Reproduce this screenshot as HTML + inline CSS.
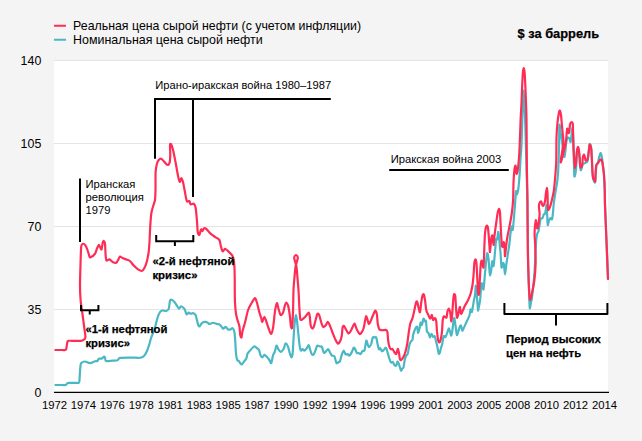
<!DOCTYPE html>
<html lang="ru"><head><meta charset="utf-8"><title>Цена сырой нефти</title>
<style>
html,body{margin:0;padding:0;}
body{width:642px;height:441px;background:#f4f4f4;overflow:hidden;position:relative;}
#plot{position:absolute;left:54px;top:60px;width:554px;height:333px;background:#fff;}
svg{position:absolute;left:0;top:0;}
svg text{font-family:"Liberation Sans",Arial,Helvetica,sans-serif;fill:#000;}
</style></head><body>
<div id="plot"></div>
<svg width="642" height="441" viewBox="0 0 642 441">
<g stroke="#e4e4e4" stroke-width="1" shape-rendering="crispEdges">
<line x1="54" x2="608" y1="60.5" y2="60.5"/>
<line x1="54" x2="608" y1="143.5" y2="143.5"/>
<line x1="54" x2="608" y1="226.5" y2="226.5"/>
<line x1="54" x2="608" y1="309.5" y2="309.5"/>
</g>
<path d="M55.40,385.00C56.28,385.00 60.65,385.00 62.00,385.00C63.35,385.00 64.86,385.13 65.50,385.00C66.14,384.87 66.49,384.27 66.80,384.00C67.11,383.73 67.37,383.15 67.80,383.00C68.23,382.85 69.04,382.91 70.00,382.90C70.96,382.89 73.85,382.90 75.00,382.90C76.15,382.90 78.01,383.15 78.60,382.90C79.19,382.65 79.21,382.55 79.40,381.00C79.59,379.45 79.84,373.38 80.00,371.25C80.16,369.12 80.41,366.13 80.60,365.00C80.79,363.87 80.81,363.27 81.40,362.80C81.99,362.33 83.85,361.46 85.00,361.50C86.15,361.54 88.67,363.13 90.00,363.10C91.33,363.07 94.00,361.53 95.00,361.25C96.00,360.97 97.00,361.33 97.50,361.00C98.00,360.67 98.16,359.08 98.75,358.75C99.34,358.42 101.23,358.77 101.90,358.50C102.57,358.23 103.34,356.83 103.75,356.70C104.16,356.57 104.70,356.93 105.00,357.50C105.30,358.07 105.00,360.59 106.00,361.00C107.00,361.41 110.97,360.70 112.50,360.60C114.03,360.50 116.50,360.61 117.50,360.25C118.50,359.89 118.33,358.25 120.00,357.90C121.67,357.55 127.33,357.62 130.00,357.60C132.67,357.58 138.17,357.93 140.00,357.75C141.83,357.57 142.83,357.12 143.75,356.25C144.67,355.38 146.15,352.88 146.90,351.25C147.65,349.62 148.82,345.83 149.40,344.00C149.98,342.17 150.58,339.37 151.25,337.50C151.92,335.63 153.73,332.00 154.40,330.00C155.07,328.00 155.67,324.58 156.25,322.50C156.83,320.42 158.00,315.99 158.75,314.40C159.50,312.81 160.90,311.05 161.90,310.60C162.90,310.15 165.34,311.25 166.25,311.00C167.16,310.75 168.25,310.14 168.75,308.75C169.25,307.36 169.63,301.80 170.00,300.60C170.37,299.40 170.91,299.58 171.50,299.75C172.09,299.92 173.68,301.12 174.40,301.90C175.12,302.68 176.29,304.69 176.90,305.60C177.51,306.51 178.45,308.66 179.00,308.75C179.55,308.84 180.45,306.42 181.00,306.25C181.55,306.08 182.57,307.00 183.10,307.50C183.63,308.00 184.55,309.08 185.00,310.00C185.45,310.92 186.00,314.07 186.50,314.40C187.00,314.73 188.20,312.59 188.75,312.50C189.30,312.41 190.02,313.67 190.60,313.75C191.18,313.83 192.43,312.93 193.10,313.10C193.77,313.27 195.09,314.08 195.60,315.00C196.11,315.92 196.51,318.59 196.90,320.00C197.29,321.41 198.12,324.77 198.50,325.60C198.88,326.43 199.30,326.58 199.75,326.25C200.20,325.92 201.20,323.68 201.90,323.10C202.60,322.52 204.25,321.98 205.00,321.90C205.75,321.82 206.91,322.22 207.50,322.50C208.09,322.78 208.65,323.97 209.40,324.00C210.15,324.03 212.10,322.75 213.10,322.75C214.10,322.75 216.06,323.78 216.90,324.00C217.74,324.22 218.82,324.10 219.40,324.40C219.98,324.70 220.76,325.67 221.25,326.25C221.74,326.83 222.52,328.66 223.10,328.75C223.68,328.84 224.93,326.81 225.60,326.90C226.27,326.99 227.43,329.07 228.10,329.40C228.77,329.73 230.01,329.57 230.60,329.40C231.19,329.23 231.99,327.77 232.50,328.10C233.01,328.43 234.03,330.15 234.40,331.90C234.77,333.65 235.04,338.34 235.25,341.25C235.46,344.16 235.73,351.25 236.00,353.75C236.27,356.25 236.85,359.00 237.25,360.00C237.65,361.00 238.55,360.75 239.00,361.25C239.45,361.75 240.21,363.33 240.60,363.75C240.99,364.17 241.48,364.65 241.90,364.40C242.32,364.15 243.17,362.65 243.75,361.90C244.33,361.15 245.75,359.84 246.25,358.75C246.75,357.66 247.00,354.84 247.50,353.75C248.00,352.66 249.25,351.47 250.00,350.60C250.75,349.73 252.43,347.80 253.10,347.25C253.77,346.70 254.49,346.39 255.00,346.50C255.51,346.61 256.37,347.63 256.90,348.10C257.43,348.57 258.51,349.00 259.00,350.00C259.49,351.00 260.13,354.63 260.60,355.60C261.07,356.57 261.99,357.36 262.50,357.25C263.01,357.14 263.81,354.80 264.40,354.75C264.99,354.70 266.23,356.20 266.90,356.90C267.57,357.60 268.82,359.17 269.40,360.00C269.98,360.83 270.76,363.77 271.25,363.10C271.74,362.43 272.63,356.49 273.10,355.00C273.57,353.51 274.30,353.15 274.75,351.90C275.20,350.65 276.05,346.02 276.50,345.60C276.95,345.18 277.55,347.91 278.10,348.75C278.65,349.59 279.85,351.90 280.60,351.90C281.35,351.90 283.16,349.75 283.75,348.75C284.34,347.75 284.67,345.10 285.00,344.40C285.33,343.70 285.84,343.17 286.25,343.50C286.66,343.83 287.63,345.62 288.10,346.90C288.57,348.18 289.30,351.69 289.75,353.10C290.20,354.51 291.10,357.58 291.50,357.50C291.90,357.42 292.45,355.50 292.75,352.50C293.05,349.50 293.45,339.33 293.75,335.00C294.05,330.67 294.70,322.67 295.00,320.00C295.30,317.33 295.75,315.00 296.00,315.00C296.25,315.00 296.62,317.83 296.90,320.00C297.18,322.17 297.72,327.66 298.10,331.25C298.48,334.84 299.36,344.32 299.75,346.90C300.14,349.48 300.63,350.32 301.00,350.60C301.37,350.88 302.05,349.00 302.50,349.00C302.95,349.00 303.81,350.72 304.40,350.60C304.99,350.48 306.32,348.81 306.90,348.10C307.48,347.39 308.30,345.00 308.75,345.25C309.20,345.50 309.83,348.78 310.25,350.00C310.67,351.22 311.43,353.81 311.90,354.40C312.37,354.99 313.26,354.99 313.75,354.40C314.24,353.81 315.13,351.17 315.60,350.00C316.07,348.83 316.66,346.07 317.25,345.60C317.84,345.13 319.38,346.33 320.00,346.50C320.62,346.67 321.40,346.10 321.90,346.90C322.40,347.70 323.26,351.83 323.75,352.50C324.24,353.17 325.02,352.37 325.60,351.90C326.18,351.43 327.51,348.92 328.10,349.00C328.69,349.08 329.49,351.62 330.00,352.50C330.51,353.38 331.31,355.10 331.90,355.60C332.49,356.10 333.79,355.25 334.40,356.25C335.01,357.25 335.92,362.35 336.50,363.10C337.08,363.85 338.28,362.15 338.75,361.90C339.22,361.65 339.58,362.25 340.00,361.25C340.42,360.25 341.40,355.82 341.90,354.40C342.40,352.98 343.26,350.60 343.75,350.60C344.24,350.60 345.10,353.95 345.60,354.40C346.10,354.85 346.99,353.84 347.50,354.00C348.01,354.16 348.81,355.88 349.40,355.60C349.99,355.32 351.32,352.95 351.90,351.90C352.48,350.85 353.30,348.08 353.75,347.75C354.20,347.42 354.83,348.69 355.25,349.40C355.67,350.11 356.43,352.61 356.90,353.10C357.37,353.59 358.26,352.98 358.75,353.10C359.24,353.22 360.10,354.28 360.60,354.00C361.10,353.72 361.99,351.45 362.50,351.00C363.01,350.55 363.99,351.48 364.40,350.60C364.81,349.72 365.32,345.73 365.60,344.40C365.88,343.07 366.17,340.44 366.50,340.60C366.83,340.76 367.71,344.76 368.10,345.60C368.49,346.44 368.98,347.15 369.40,346.90C369.82,346.65 370.80,345.00 371.25,343.75C371.70,342.50 372.33,338.33 372.75,337.50C373.17,336.67 373.93,337.50 374.40,337.50C374.87,337.50 375.84,336.67 376.25,337.50C376.66,338.33 377.13,342.16 377.50,343.75C377.87,345.34 378.63,348.82 379.00,349.40C379.37,349.98 379.86,347.85 380.25,348.10C380.64,348.35 381.43,351.00 381.90,351.25C382.37,351.50 383.20,350.47 383.75,350.00C384.30,349.53 385.47,347.34 386.00,347.75C386.53,348.16 387.30,351.63 387.75,353.10C388.20,354.57 388.97,357.50 389.40,358.75C389.83,360.00 390.55,362.08 391.00,362.50C391.45,362.92 392.30,361.57 392.75,361.90C393.20,362.23 393.93,364.51 394.40,365.00C394.87,365.49 395.84,366.07 396.25,365.60C396.66,365.13 397.13,361.66 397.50,361.50C397.87,361.34 398.53,363.19 399.00,364.40C399.47,365.61 400.57,370.05 401.00,370.60C401.43,371.15 401.92,368.91 402.25,368.50C402.58,368.09 403.17,368.63 403.50,367.50C403.83,366.37 404.38,361.59 404.75,360.00C405.12,358.41 405.85,356.43 406.25,355.60C406.65,354.77 407.33,355.16 407.75,353.75C408.17,352.34 408.97,346.67 409.40,345.00C409.83,343.33 410.59,341.95 411.00,341.25C411.41,340.55 412.22,340.58 412.50,339.75C412.78,338.92 412.69,336.55 413.10,335.00C413.51,333.45 415.05,329.18 415.60,328.10C416.15,327.02 416.92,326.23 417.25,326.90C417.58,327.57 417.77,333.02 418.10,333.10C418.43,333.18 419.42,328.91 419.75,327.50C420.08,326.09 420.31,322.83 420.60,322.50C420.89,322.17 421.51,325.50 421.90,325.00C422.29,324.50 423.12,319.25 423.50,318.75C423.88,318.25 424.42,320.92 424.75,321.25C425.08,321.58 425.71,319.92 426.00,321.25C426.29,322.58 426.57,329.67 426.90,331.25C427.23,332.83 428.09,332.27 428.50,333.10C428.91,333.93 429.60,337.41 430.00,337.50C430.40,337.59 431.09,333.83 431.50,333.75C431.91,333.67 432.67,336.57 433.10,336.90C433.53,337.23 434.36,335.67 434.75,336.25C435.14,336.83 435.63,339.75 436.00,341.25C436.37,342.75 437.13,345.83 437.50,347.50C437.87,349.17 438.42,353.15 438.75,353.75C439.08,354.35 439.70,352.77 440.00,352.00C440.30,351.23 440.70,349.10 441.00,348.00C441.30,346.90 441.88,345.32 442.25,343.75C442.62,342.18 443.30,337.16 443.75,336.25C444.20,335.34 445.07,337.57 445.60,336.90C446.13,336.23 447.30,332.37 447.75,331.25C448.20,330.13 448.67,328.33 449.00,328.50C449.33,328.67 449.95,331.55 450.25,332.50C450.55,333.45 450.98,335.77 451.25,335.60C451.52,335.43 451.95,333.16 452.25,331.25C452.55,329.34 453.21,323.00 453.50,321.25C453.79,319.50 454.12,317.43 454.40,318.10C454.68,318.77 455.27,324.00 455.60,326.25C455.93,328.50 456.57,334.25 456.90,335.00C457.23,335.75 457.72,332.98 458.10,331.90C458.48,330.82 459.36,327.74 459.75,326.90C460.14,326.06 460.67,325.11 461.00,325.60C461.33,326.09 461.88,330.27 462.25,330.60C462.62,330.93 463.22,329.18 463.75,328.10C464.28,327.02 465.50,324.17 466.25,322.50C467.00,320.83 468.82,317.35 469.40,315.60C469.98,313.85 470.27,309.89 470.60,309.40C470.93,308.91 471.48,312.99 471.90,311.90C472.32,310.81 473.34,303.50 473.75,301.25C474.16,299.00 474.71,297.09 475.00,295.00C475.29,292.91 475.65,285.43 475.90,285.60C476.15,285.77 476.67,293.66 476.90,296.25C477.13,298.84 477.44,303.09 477.60,305.00C477.76,306.91 477.94,310.33 478.10,310.60C478.26,310.87 478.58,308.08 478.80,307.00C479.02,305.92 479.52,303.97 479.75,302.50C479.98,301.03 480.30,298.50 480.50,296.00C480.70,293.50 480.98,285.22 481.25,283.75C481.52,282.28 482.20,284.25 482.50,285.00C482.80,285.75 483.20,290.57 483.50,289.40C483.80,288.23 484.42,279.84 484.75,276.25C485.08,272.66 485.67,265.59 486.00,262.50C486.33,259.41 486.92,253.60 487.25,253.10C487.58,252.60 488.21,256.50 488.50,258.75C488.79,261.00 489.20,267.75 489.40,270.00C489.60,272.25 489.75,275.60 490.00,275.60C490.25,275.60 490.95,271.91 491.25,270.00C491.55,268.09 491.95,261.75 492.25,261.25C492.55,260.75 493.21,266.58 493.50,266.25C493.79,265.92 494.17,261.08 494.40,258.75C494.63,256.42 495.00,251.42 495.25,248.75C495.50,246.08 495.98,240.00 496.25,238.75C496.52,237.50 497.00,240.31 497.25,239.40C497.50,238.49 497.87,232.32 498.10,231.90C498.33,231.48 498.75,234.17 499.00,236.25C499.25,238.33 499.79,245.17 500.00,247.50C500.21,249.83 500.40,251.08 500.60,253.75C500.80,256.42 501.17,266.25 501.50,267.50C501.83,268.75 502.77,263.43 503.10,263.10C503.43,262.77 503.75,263.49 504.00,265.00C504.25,266.51 504.70,274.40 505.00,274.40C505.30,274.40 505.84,267.92 506.25,265.00C506.66,262.08 507.68,255.33 508.10,252.50C508.52,249.67 509.07,246.42 509.40,243.75C509.73,241.08 510.27,234.83 510.60,232.50C510.93,230.17 511.61,226.58 511.90,226.25C512.19,225.92 512.50,230.83 512.75,230.00C513.00,229.17 513.45,223.33 513.75,220.00C514.05,216.67 514.70,208.83 515.00,205.00C515.30,201.17 515.75,192.66 516.00,191.25C516.25,189.84 516.57,194.90 516.90,194.40C517.23,193.90 518.12,190.42 518.50,187.50C518.88,184.58 519.47,176.50 519.75,172.50C520.03,168.50 520.37,161.17 520.60,157.50C520.83,153.83 521.25,150.67 521.50,145.00C521.75,139.33 522.20,122.33 522.50,115.00C522.80,107.67 523.42,90.00 523.75,90.00C524.08,90.00 524.70,107.00 525.00,115.00C525.30,123.00 525.69,138.67 526.00,150.00C526.31,161.33 527.02,185.33 527.30,200.00C527.58,214.67 527.87,248.00 528.10,260.00C528.33,272.00 528.78,283.60 529.00,290.00C529.22,296.40 529.48,306.40 529.75,308.00C530.02,309.60 530.70,303.40 531.00,302.00C531.30,300.60 531.53,301.43 532.00,297.50C532.47,293.57 534.02,278.83 534.50,272.50C534.98,266.17 535.37,254.33 535.60,250.00C535.83,245.67 536.03,242.17 536.25,240.00C536.47,237.83 536.95,234.92 537.25,233.75C537.55,232.58 538.21,232.25 538.50,231.25C538.79,230.25 539.12,227.92 539.40,226.25C539.68,224.58 540.19,219.84 540.60,218.75C541.01,217.66 542.08,218.68 542.50,218.10C542.92,217.52 543.42,214.98 543.75,214.40C544.08,213.82 544.70,214.50 545.00,213.75C545.30,213.00 545.80,209.92 546.00,208.75C546.20,207.58 546.33,204.00 546.50,205.00C546.67,206.00 547.08,213.58 547.25,216.25C547.42,218.92 547.52,224.42 547.75,225.00C547.98,225.58 548.62,221.52 549.00,220.60C549.38,219.68 550.21,218.26 550.60,218.10C550.99,217.94 551.61,219.81 551.90,219.40C552.19,218.99 552.50,217.09 552.75,215.00C553.00,212.91 553.45,206.42 553.75,203.75C554.05,201.08 554.67,197.17 555.00,195.00C555.33,192.83 555.98,189.10 556.25,187.50C556.52,185.90 556.75,185.00 557.00,183.00C557.25,181.00 557.83,177.23 558.10,172.50C558.37,167.77 558.83,153.83 559.00,147.50C559.17,141.17 559.19,127.00 559.40,125.00C559.61,123.00 560.19,129.83 560.60,132.50C561.01,135.17 562.11,142.40 562.50,145.00C562.89,147.60 563.23,150.40 563.50,152.00C563.77,153.60 564.23,157.27 564.50,157.00C564.77,156.73 565.27,151.93 565.50,150.00C565.73,148.07 565.98,144.17 566.25,142.50C566.52,140.83 567.08,138.00 567.50,137.50C567.92,137.00 568.99,138.15 569.40,138.75C569.81,139.35 570.32,142.50 570.60,142.00C570.88,141.50 571.25,136.87 571.50,135.00C571.75,133.13 572.26,127.33 572.50,128.00C572.74,128.67 573.13,135.73 573.30,140.00C573.47,144.27 573.65,155.17 573.80,160.00C573.95,164.83 574.16,174.58 574.40,176.25C574.64,177.92 575.35,173.83 575.60,172.50C575.85,171.17 576.06,168.85 576.25,166.25C576.44,163.65 576.75,155.43 577.00,153.00C577.25,150.57 577.83,148.13 578.10,148.00C578.37,147.87 578.75,150.00 579.00,152.00C579.25,154.00 579.79,160.60 580.00,163.00C580.21,165.40 580.40,169.23 580.60,170.00C580.80,170.77 581.18,169.55 581.50,168.75C581.82,167.95 582.53,164.75 583.00,164.00C583.47,163.25 584.40,163.47 585.00,163.10C585.60,162.73 587.03,162.46 587.50,161.25C587.97,160.04 588.25,156.25 588.50,154.00C588.75,151.75 589.17,145.60 589.40,144.40C589.63,143.20 590.00,144.39 590.25,145.00C590.50,145.61 591.03,147.00 591.25,149.00C591.47,151.00 591.73,156.87 591.90,160.00C592.07,163.13 592.34,170.03 592.50,172.50C592.66,174.97 592.77,177.17 593.10,178.50C593.43,179.83 594.64,183.23 595.00,182.50C595.36,181.77 595.60,175.20 595.80,173.00C596.00,170.80 596.21,167.47 596.50,166.00C596.79,164.53 597.61,163.30 598.00,162.00C598.39,160.70 599.05,157.44 599.40,156.25C599.75,155.06 600.27,152.93 600.60,153.10C600.93,153.27 601.61,156.08 601.90,157.50C602.19,158.92 602.47,161.42 602.75,163.75C603.03,166.08 603.73,171.50 604.00,175.00C604.27,178.50 604.62,186.00 604.75,190.00C604.88,194.00 604.80,199.00 605.00,205.00C605.20,211.00 605.85,225.13 606.25,235.00C606.65,244.87 607.77,273.13 608.00,279.00" fill="none" stroke="#4ab8c4" stroke-width="2.2" stroke-linejoin="round" stroke-linecap="round"/>
<path d="M55.40,350.00C56.28,350.00 60.68,350.00 62.00,350.00C63.32,350.00 64.74,350.11 65.30,350.00C65.86,349.89 66.00,349.80 66.20,349.20C66.40,348.60 66.64,346.49 66.80,345.50C66.96,344.51 67.19,342.43 67.40,341.80C67.61,341.17 67.79,340.93 68.40,340.80C69.01,340.67 70.72,340.80 72.00,340.80C73.28,340.80 76.60,340.83 78.00,340.80C79.40,340.77 81.51,341.04 82.50,340.60C83.49,340.16 85.15,339.08 85.40,337.50C85.65,335.92 84.82,332.08 84.40,328.75C83.98,325.42 82.76,316.33 82.25,312.50C81.74,308.67 80.90,303.67 80.60,300.00C80.30,296.33 80.00,290.17 80.00,285.00C80.00,279.83 80.43,266.42 80.60,261.25C80.77,256.08 80.92,248.58 81.25,246.25C81.58,243.92 82.52,243.84 83.10,243.75C83.68,243.66 85.01,244.77 85.60,245.60C86.19,246.43 86.99,248.58 87.50,250.00C88.01,251.42 88.99,255.28 89.40,256.25C89.81,257.22 89.85,257.58 90.60,257.25C91.35,256.92 94.16,254.88 95.00,253.75C95.84,252.62 96.40,249.92 96.90,248.75C97.40,247.58 98.34,245.25 98.75,245.00C99.16,244.75 99.63,246.31 100.00,246.90C100.37,247.49 101.13,249.99 101.50,249.40C101.87,248.81 102.45,243.62 102.75,242.50C103.05,241.38 103.45,240.83 103.75,241.00C104.05,241.17 104.75,241.88 105.00,243.75C105.25,245.62 105.40,252.75 105.60,255.00C105.80,257.25 105.99,260.01 106.50,260.60C107.01,261.19 108.52,259.18 109.40,259.40C110.28,259.62 112.19,261.80 113.10,262.25C114.01,262.70 115.58,263.05 116.25,262.75C116.92,262.45 117.60,260.83 118.10,260.00C118.60,259.17 119.41,256.75 120.00,256.50C120.59,256.25 121.67,257.71 122.50,258.10C123.33,258.49 125.25,259.01 126.25,259.40C127.25,259.79 129.00,260.17 130.00,261.00C131.00,261.83 132.67,264.48 133.75,265.60C134.83,266.72 137.01,268.68 138.10,269.40C139.19,270.12 141.06,271.17 141.90,271.00C142.74,270.83 143.73,269.40 144.40,268.10C145.07,266.80 146.32,263.50 146.90,261.25C147.48,259.00 148.39,254.08 148.75,251.25C149.11,248.42 149.40,243.33 149.60,240.00C149.80,236.67 150.03,229.75 150.25,226.25C150.47,222.75 150.87,216.42 151.25,213.75C151.63,211.08 152.60,208.08 153.10,206.25C153.60,204.42 154.68,202.17 155.00,200.00C155.32,197.83 155.42,193.67 155.50,190.00C155.58,186.33 155.41,176.00 155.60,172.50C155.79,169.00 156.48,165.42 156.90,163.75C157.32,162.08 158.17,160.67 158.75,160.00C159.33,159.33 160.50,158.50 161.25,158.75C162.00,159.00 163.57,161.07 164.40,161.90C165.23,162.73 166.79,165.00 167.50,165.00C168.21,165.00 169.38,163.40 169.75,161.90C170.12,160.40 170.22,156.00 170.25,153.75C170.28,151.50 169.91,146.30 170.00,145.00C170.09,143.70 170.53,143.50 170.90,144.00C171.27,144.50 172.12,146.28 172.75,148.75C173.38,151.22 174.89,158.83 175.60,162.50C176.31,166.17 177.55,173.66 178.10,176.25C178.65,178.84 179.33,181.65 179.75,181.90C180.17,182.15 180.80,178.02 181.25,178.10C181.70,178.18 182.57,180.41 183.10,182.50C183.63,184.59 184.74,191.25 185.25,193.75C185.76,196.25 186.35,200.28 186.90,201.25C187.45,202.22 188.91,200.58 189.40,201.00C189.89,201.42 190.02,204.03 190.60,204.40C191.18,204.77 193.08,203.34 193.75,203.75C194.42,204.16 195.18,205.33 195.60,207.50C196.02,209.67 196.61,216.73 196.90,220.00C197.19,223.27 197.42,230.00 197.75,232.00C198.08,234.00 198.97,235.35 199.40,235.00C199.83,234.65 200.59,229.90 201.00,229.40C201.41,228.90 202.13,231.37 202.50,231.25C202.87,231.13 203.28,228.83 203.75,228.50C204.22,228.17 205.17,228.14 206.00,228.75C206.83,229.36 208.80,232.01 210.00,233.10C211.20,234.19 213.75,235.98 215.00,236.90C216.25,237.82 218.65,238.92 219.40,240.00C220.15,241.08 220.27,243.67 220.60,245.00C220.93,246.33 221.57,249.17 221.90,250.00C222.23,250.83 222.69,251.42 223.10,251.25C223.51,251.08 224.41,248.84 225.00,248.75C225.59,248.66 226.58,249.77 227.50,250.60C228.42,251.43 231.10,253.91 231.90,255.00C232.70,256.09 233.17,257.25 233.50,258.75C233.83,260.25 234.23,263.42 234.40,266.25C234.57,269.08 234.70,276.83 234.75,280.00C234.80,283.17 234.72,287.00 234.75,290.00C234.78,293.00 234.83,299.33 235.00,302.50C235.17,305.67 235.67,311.42 236.00,313.75C236.33,316.08 237.05,318.33 237.50,320.00C237.95,321.67 239.03,324.25 239.40,326.25C239.77,328.25 239.97,333.50 240.25,335.00C240.53,336.50 241.20,338.00 241.50,337.50C241.80,337.00 242.03,333.25 242.50,331.25C242.97,329.25 244.25,325.33 245.00,322.50C245.75,319.67 247.18,312.67 248.10,310.00C249.02,307.33 250.98,304.09 251.90,302.50C252.82,300.91 254.33,298.10 255.00,298.10C255.67,298.10 256.31,300.58 256.90,302.50C257.49,304.42 258.82,310.42 259.40,312.50C259.98,314.58 260.87,316.85 261.25,318.10C261.63,319.35 261.83,322.06 262.25,321.90C262.67,321.74 263.87,316.99 264.40,316.90C264.93,316.81 265.67,319.67 266.25,321.25C266.83,322.83 268.12,327.05 268.75,328.75C269.38,330.45 270.42,334.17 271.00,334.00C271.58,333.83 272.57,330.53 273.10,327.50C273.63,324.47 274.49,314.50 275.00,311.25C275.51,308.00 276.43,303.43 276.90,303.10C277.37,302.77 278.01,307.16 278.50,308.75C278.99,310.34 279.99,314.50 280.60,315.00C281.21,315.50 282.51,313.83 283.10,312.50C283.69,311.17 284.58,306.33 285.00,305.00C285.42,303.67 285.84,302.42 286.25,302.50C286.66,302.58 287.63,303.93 288.10,305.60C288.57,307.27 289.36,312.16 289.75,315.00C290.14,317.84 290.67,325.31 291.00,326.90C291.33,328.49 291.97,329.32 292.25,326.90C292.53,324.48 292.93,313.67 293.10,308.75C293.27,303.83 293.33,294.10 293.50,290.00C293.67,285.90 294.13,281.07 294.40,278.00C294.67,274.93 295.14,269.27 295.50,267.00C295.86,264.73 296.79,262.20 297.10,261.00C297.41,259.80 297.77,258.67 297.80,258.00C297.83,257.33 297.54,256.40 297.30,256.00C297.06,255.60 296.35,255.00 296.00,255.00C295.65,255.00 294.94,255.60 294.70,256.00C294.46,256.40 294.17,257.33 294.20,258.00C294.23,258.67 294.59,259.80 294.90,261.00C295.21,262.20 296.15,264.73 296.50,267.00C296.85,269.27 297.22,274.67 297.50,278.00C297.78,281.33 298.35,288.00 298.60,292.00C298.85,296.00 299.16,304.35 299.40,308.00C299.64,311.65 299.91,317.97 300.40,319.40C300.89,320.83 302.32,319.26 303.10,318.75C303.88,318.24 305.50,316.43 306.25,315.60C307.00,314.77 308.28,312.41 308.75,312.50C309.22,312.59 309.50,314.58 309.75,316.25C310.00,317.92 310.27,323.37 310.60,325.00C310.93,326.63 311.80,328.33 312.25,328.50C312.70,328.67 313.55,327.38 314.00,326.25C314.45,325.12 315.13,321.67 315.60,320.00C316.07,318.33 316.99,314.34 317.50,313.75C318.01,313.16 318.90,314.43 319.40,315.60C319.90,316.77 320.76,320.99 321.25,322.50C321.74,324.01 322.52,326.49 323.10,326.90C323.68,327.31 324.98,326.27 325.60,325.60C326.22,324.93 327.24,322.06 327.75,321.90C328.26,321.74 328.77,322.99 329.40,324.40C330.03,325.81 331.67,330.42 332.50,332.50C333.33,334.58 334.90,338.53 335.60,340.00C336.30,341.47 337.20,343.25 337.75,343.50C338.30,343.75 339.22,342.87 339.75,341.90C340.28,340.93 341.32,338.17 341.70,336.25C342.08,334.33 342.29,328.87 342.60,327.50C342.91,326.13 343.51,325.67 344.00,326.00C344.49,326.33 345.65,329.00 346.25,330.00C346.85,331.00 347.92,333.33 348.50,333.50C349.08,333.67 349.99,332.25 350.60,331.25C351.21,330.25 352.55,327.00 353.10,326.00C353.65,325.00 354.30,323.38 354.75,323.75C355.20,324.12 355.83,327.38 356.50,328.75C357.17,330.12 359.03,333.58 359.75,334.00C360.47,334.42 361.40,332.63 361.90,331.90C362.40,331.17 363.12,329.75 363.50,328.50C363.88,327.25 364.42,324.13 364.75,322.50C365.08,320.87 365.67,316.75 366.00,316.25C366.33,315.75 366.88,317.75 367.25,318.75C367.62,319.75 368.30,323.42 368.75,323.75C369.20,324.08 370.02,322.42 370.60,321.25C371.18,320.08 372.48,316.42 373.10,315.00C373.72,313.58 374.74,310.68 375.25,310.60C375.76,310.52 376.57,312.65 376.90,314.40C377.23,316.15 377.42,321.75 377.75,323.75C378.08,325.75 378.85,328.53 379.40,329.40C379.95,330.27 380.99,330.17 381.90,330.25C382.81,330.33 385.50,329.70 386.25,330.00C387.00,330.30 387.25,331.17 387.50,332.50C387.75,333.83 387.85,338.08 388.10,340.00C388.35,341.92 389.01,345.65 389.40,346.90C389.79,348.15 390.59,349.12 391.00,349.40C391.41,349.68 392.05,348.62 392.50,349.00C392.95,349.38 393.90,351.58 394.40,352.25C394.90,352.92 395.80,354.47 396.25,354.00C396.70,353.53 397.38,348.87 397.75,348.75C398.12,348.63 398.70,351.68 399.00,353.10C399.30,354.52 399.67,358.51 400.00,359.40C400.33,360.29 401.00,360.17 401.50,359.75C402.00,359.33 403.20,357.38 403.75,356.25C404.30,355.12 405.13,352.92 405.60,351.25C406.07,349.58 406.83,346.25 407.25,343.75C407.67,341.25 408.35,335.17 408.75,332.50C409.15,329.83 409.75,325.67 410.25,323.75C410.75,321.83 411.95,319.93 412.50,318.10C413.05,316.27 413.93,312.08 414.40,310.00C414.87,307.92 415.62,303.58 416.00,302.50C416.38,301.42 416.92,301.23 417.25,301.90C417.58,302.57 418.13,306.12 418.50,307.50C418.87,308.88 419.63,312.92 420.00,312.25C420.37,311.58 420.92,304.72 421.25,302.50C421.58,300.28 422.17,296.68 422.50,295.60C422.83,294.52 423.42,293.81 423.75,294.40C424.08,294.99 424.67,297.92 425.00,300.00C425.33,302.08 425.84,308.08 426.25,310.00C426.66,311.92 427.57,313.23 428.10,314.40C428.63,315.57 429.74,318.67 430.25,318.75C430.76,318.83 431.52,314.83 431.90,315.00C432.28,315.17 432.69,319.59 433.10,320.00C433.51,320.41 434.58,317.93 435.00,318.10C435.42,318.27 435.98,319.50 436.25,321.25C436.52,323.00 436.75,328.75 437.00,331.25C437.25,333.75 437.78,338.50 438.10,340.00C438.42,341.50 439.07,342.50 439.40,342.50C439.73,342.50 440.27,341.33 440.60,340.00C440.93,338.67 441.61,335.17 441.90,332.50C442.19,329.83 442.47,322.17 442.75,320.00C443.03,317.83 443.50,316.58 444.00,316.25C444.50,315.92 446.03,318.17 446.50,317.50C446.97,316.83 447.17,312.42 447.50,311.25C447.83,310.08 448.63,308.58 449.00,308.75C449.37,308.92 449.95,310.83 450.25,312.50C450.55,314.17 450.98,321.08 451.25,321.25C451.52,321.42 452.00,316.42 452.25,313.75C452.50,311.08 452.87,303.83 453.10,301.25C453.33,298.67 453.71,295.10 454.00,294.40C454.29,293.70 454.98,294.25 455.25,296.00C455.52,297.75 455.78,304.63 456.00,307.50C456.22,310.37 456.62,316.50 456.90,317.50C457.18,318.50 457.72,316.41 458.10,315.00C458.48,313.59 459.36,307.07 459.75,306.90C460.14,306.73 460.63,313.17 461.00,313.75C461.37,314.33 461.97,312.34 462.50,311.25C463.03,310.16 464.25,307.10 465.00,305.60C465.75,304.10 467.35,301.58 468.10,300.00C468.85,298.42 470.01,295.75 470.60,293.75C471.19,291.75 472.11,287.42 472.50,285.00C472.89,282.58 473.25,278.60 473.50,275.60C473.75,272.60 474.12,264.66 474.40,262.50C474.68,260.34 475.32,259.23 475.60,259.40C475.88,259.57 476.28,261.34 476.50,263.75C476.72,266.16 477.04,273.59 477.25,277.50C477.46,281.41 477.87,290.93 478.10,293.10C478.33,295.27 478.78,295.33 479.00,293.75C479.22,292.17 479.54,284.92 479.75,281.25C479.96,277.58 480.37,269.00 480.60,266.25C480.83,263.50 481.25,260.93 481.50,260.60C481.75,260.27 482.23,262.83 482.50,263.75C482.77,264.67 483.30,268.33 483.50,267.50C483.70,266.67 483.83,261.50 484.00,257.50C484.17,253.50 484.54,241.33 484.75,237.50C484.96,233.67 485.31,230.34 485.60,228.75C485.89,227.16 486.57,225.60 486.90,225.60C487.23,225.60 487.77,226.16 488.10,228.75C488.43,231.34 489.15,241.91 489.40,245.00C489.65,248.09 489.75,252.73 490.00,251.90C490.25,251.07 490.92,240.92 491.25,238.75C491.58,236.58 492.20,234.77 492.50,235.60C492.80,236.43 493.25,244.91 493.50,245.00C493.75,245.09 494.03,239.25 494.40,236.25C494.77,233.25 495.80,225.67 496.25,222.50C496.70,219.33 497.38,214.33 497.75,212.50C498.12,210.67 498.70,208.75 499.00,208.75C499.30,208.75 499.73,209.33 500.00,212.50C500.27,215.67 500.75,228.17 501.00,232.50C501.25,236.83 501.67,243.08 501.90,245.00C502.13,246.92 502.50,247.31 502.75,246.90C503.00,246.49 503.50,241.89 503.75,241.90C504.00,241.91 504.43,245.09 504.60,247.00C504.77,248.91 504.78,256.52 505.00,256.25C505.22,255.98 505.92,247.67 506.25,245.00C506.58,242.33 507.00,239.08 507.50,236.25C508.00,233.42 509.41,226.92 510.00,223.75C510.59,220.58 511.49,215.67 511.90,212.50C512.31,209.33 512.89,204.00 513.10,200.00C513.31,196.00 513.33,186.50 513.50,182.50C513.67,178.50 514.12,172.25 514.40,170.00C514.68,167.75 515.32,165.10 515.60,165.60C515.88,166.10 516.21,173.16 516.50,173.75C516.79,174.34 517.42,172.17 517.75,170.00C518.08,167.83 518.74,160.83 519.00,157.50C519.26,154.17 519.49,150.00 519.70,145.00C519.91,140.00 520.36,125.60 520.60,120.00C520.84,114.40 521.29,107.67 521.50,103.00C521.71,98.33 522.01,89.07 522.20,85.00C522.39,80.93 522.69,74.74 522.90,72.50C523.11,70.26 523.52,68.20 523.75,68.20C523.98,68.20 524.39,70.26 524.60,72.50C524.81,74.74 525.11,80.93 525.30,85.00C525.49,89.07 525.84,98.33 526.00,103.00C526.16,107.67 526.38,111.07 526.50,120.00C526.62,128.93 526.77,159.33 526.90,170.00C527.03,180.67 527.39,190.00 527.50,200.00C527.61,210.00 527.62,234.83 527.75,245.00C527.88,255.17 528.28,269.58 528.50,276.25C528.72,282.92 529.21,291.89 529.40,295.00C529.59,298.11 529.74,299.07 529.90,299.60C530.06,300.13 530.33,299.78 530.60,299.00C530.87,298.22 531.39,296.28 531.90,293.75C532.41,291.22 533.91,284.00 534.40,280.00C534.89,276.00 535.49,268.42 535.60,263.75C535.71,259.08 535.33,248.83 535.20,245.00C535.07,241.17 534.64,237.40 534.60,235.00C534.56,232.60 534.71,229.00 534.90,227.00C535.09,225.00 535.73,219.93 536.00,220.00C536.27,220.07 536.67,226.42 536.90,227.50C537.13,228.58 537.50,228.77 537.75,228.10C538.00,227.43 538.50,224.41 538.75,222.50C539.00,220.59 539.58,215.92 539.60,213.75C539.62,211.58 538.88,207.75 538.90,206.25C538.92,204.75 539.44,203.13 539.75,202.50C540.06,201.87 540.92,201.17 541.25,201.50C541.58,201.83 541.95,204.45 542.25,205.00C542.55,205.55 543.13,206.10 543.50,205.60C543.87,205.10 544.67,203.00 545.00,201.25C545.33,199.50 545.75,194.30 546.00,192.50C546.25,190.70 546.70,187.75 546.90,187.75C547.10,187.75 547.39,190.37 547.50,192.50C547.61,194.63 547.66,201.42 547.75,203.75C547.84,206.08 547.90,209.58 548.20,210.00C548.50,210.42 549.51,208.23 550.00,206.90C550.49,205.57 551.40,202.09 551.90,200.00C552.40,197.91 553.30,194.42 553.75,191.25C554.20,188.08 554.92,180.25 555.25,176.25C555.58,172.25 556.08,166.42 556.25,161.25C556.42,156.08 556.33,142.67 556.50,137.50C556.67,132.33 557.17,125.83 557.50,122.50C557.83,119.17 558.67,114.09 559.00,112.50C559.33,110.91 559.73,110.27 560.00,110.60C560.27,110.93 560.75,113.08 561.00,115.00C561.25,116.92 561.63,122.17 561.90,125.00C562.17,127.83 562.80,133.85 563.00,136.25C563.20,138.65 563.48,141.17 563.40,143.00C563.32,144.83 562.71,148.00 562.40,150.00C562.09,152.00 561.33,156.33 561.10,158.00C560.87,159.67 560.59,162.37 560.70,162.50C560.81,162.63 561.51,160.40 561.90,159.00C562.29,157.60 563.13,153.87 563.60,152.00C564.07,150.13 565.04,146.87 565.40,145.00C565.76,143.13 566.11,139.80 566.30,138.00C566.49,136.20 566.65,132.77 566.80,131.50C566.95,130.23 567.17,128.29 567.40,128.50C567.63,128.71 568.23,132.73 568.50,133.10C568.77,133.47 569.20,132.41 569.40,131.25C569.60,130.09 569.75,125.60 570.00,124.40C570.25,123.20 570.88,122.34 571.25,122.25C571.62,122.16 572.50,122.05 572.75,123.75C573.00,125.45 573.00,131.83 573.10,135.00C573.20,138.17 573.33,143.83 573.50,147.50C573.67,151.17 574.20,159.75 574.40,162.50C574.60,165.25 574.79,168.10 575.00,168.10C575.21,168.10 575.75,164.75 576.00,162.50C576.25,160.25 576.62,153.33 576.90,151.25C577.18,149.17 577.82,146.90 578.10,146.90C578.38,146.90 578.78,149.64 579.00,151.25C579.22,152.86 579.62,157.23 579.75,159.00C579.88,160.77 579.90,163.41 580.00,164.50C580.10,165.59 580.33,166.81 580.50,167.20C580.67,167.59 581.10,167.56 581.30,167.40C581.50,167.24 581.84,166.72 582.00,166.00C582.16,165.28 582.38,163.20 582.50,162.00C582.62,160.80 582.70,157.99 582.90,157.00C583.10,156.01 583.72,154.53 584.00,154.60C584.28,154.67 584.79,156.70 585.00,157.50C585.21,158.30 585.27,160.35 585.60,160.60C585.93,160.85 587.11,160.31 587.50,159.40C587.89,158.49 588.25,155.50 588.50,153.75C588.75,152.00 589.17,147.45 589.40,146.25C589.63,145.05 590.00,144.42 590.25,144.75C590.50,145.08 591.03,146.72 591.25,148.75C591.47,150.78 591.73,156.83 591.90,160.00C592.07,163.17 592.34,170.09 592.50,172.50C592.66,174.91 592.85,177.10 593.10,178.10C593.35,179.10 594.11,179.58 594.40,180.00C594.69,180.42 595.09,182.25 595.25,181.25C595.41,180.25 595.47,174.67 595.60,172.50C595.73,170.33 595.92,166.25 596.25,165.00C596.58,163.75 597.60,163.77 598.10,163.10C598.60,162.43 599.58,160.49 600.00,160.00C600.42,159.51 600.95,159.15 601.25,159.40C601.55,159.65 602.00,160.82 602.25,161.90C602.50,162.98 602.87,165.75 603.10,167.50C603.33,169.25 603.78,172.00 604.00,175.00C604.22,178.00 604.62,186.00 604.75,190.00C604.88,194.00 604.80,199.00 605.00,205.00C605.20,211.00 605.85,225.13 606.25,235.00C606.65,244.87 607.77,273.13 608.00,279.00" fill="none" stroke="#ff2d55" stroke-width="2.2" stroke-linejoin="round" stroke-linecap="round"/>
<g stroke="#000" stroke-width="2" fill="none">
<line x1="54" x2="609" y1="392.4" y2="392.4" stroke-width="1.3"/>
<line x1="80" x2="80" y1="178.5" y2="242"/>
<path d="M155,158.7 V99.1 H330.8"/>
<line x1="193" x2="193" y1="99.1" y2="197"/>
<line x1="389.2" x2="508.8" y1="169.9" y2="169.9"/>
<path d="M81,305 V310.2 H98.4 V305 M89.75,310.2 V314.6"/>
<path d="M156.2,235 V241.3 H193.3 V235 M174.9,241.3 V246.1"/>
<path d="M504.4,303 V314 H607.4 V303 M556,314 V325.6" stroke-linejoin="round"/>
</g>
<line x1="54" x2="66" y1="25.75" y2="25.75" stroke="#ff2d55" stroke-width="2"/>
<line x1="54" x2="66" y1="39.75" y2="39.75" stroke="#4ab8c4" stroke-width="2"/>

<text x="73.1" y="29.75" font-size="12.4" textLength="288" lengthAdjust="spacingAndGlyphs">Реальная цена сырой нефти (с учетом инфляции)</text>
<text x="73.1" y="43.5" font-size="12.4" textLength="189.5" lengthAdjust="spacingAndGlyphs">Номинальная цена сырой нефти</text>
<text x="517.6" y="37.6" font-size="13.4" font-weight="bold" stroke="#000" stroke-width="0.25" textLength="81.5" lengthAdjust="spacingAndGlyphs">$ за баррель</text>
<text x="41.3" y="65" font-size="12.4" text-anchor="end">140</text>
<text x="41.3" y="148" font-size="12.4" text-anchor="end">105</text>
<text x="41.3" y="231" font-size="12.4" text-anchor="end">70</text>
<text x="41.3" y="314" font-size="12.4" text-anchor="end">35</text>
<text x="41.3" y="396.8" font-size="12.4" text-anchor="end">0</text>
<text x="54.45" y="408.6" font-size="11.3" text-anchor="middle">1972</text>
<text x="83.40" y="408.6" font-size="11.3" text-anchor="middle">1974</text>
<text x="112.35" y="408.6" font-size="11.3" text-anchor="middle">1976</text>
<text x="141.30" y="408.6" font-size="11.3" text-anchor="middle">1978</text>
<text x="170.25" y="408.6" font-size="11.3" text-anchor="middle">1981</text>
<text x="199.20" y="408.6" font-size="11.3" text-anchor="middle">1983</text>
<text x="228.15" y="408.6" font-size="11.3" text-anchor="middle">1985</text>
<text x="257.10" y="408.6" font-size="11.3" text-anchor="middle">1987</text>
<text x="286.05" y="408.6" font-size="11.3" text-anchor="middle">1990</text>
<text x="315.00" y="408.6" font-size="11.3" text-anchor="middle">1992</text>
<text x="343.95" y="408.6" font-size="11.3" text-anchor="middle">1994</text>
<text x="372.90" y="408.6" font-size="11.3" text-anchor="middle">1996</text>
<text x="401.85" y="408.6" font-size="11.3" text-anchor="middle">1999</text>
<text x="430.80" y="408.6" font-size="11.3" text-anchor="middle">2001</text>
<text x="459.75" y="408.6" font-size="11.3" text-anchor="middle">2003</text>
<text x="488.70" y="408.6" font-size="11.3" text-anchor="middle">2005</text>
<text x="517.65" y="408.6" font-size="11.3" text-anchor="middle">2008</text>
<text x="546.60" y="408.6" font-size="11.3" text-anchor="middle">2010</text>
<text x="575.55" y="408.6" font-size="11.3" text-anchor="middle">2012</text>
<text x="604.50" y="408.6" font-size="11.3" text-anchor="middle">2014</text>
<text x="85.5" y="188" font-size="11.2" textLength="49.9" lengthAdjust="spacingAndGlyphs">Иранская</text>
<text x="85.5" y="200.9" font-size="11.2" textLength="58.4" lengthAdjust="spacingAndGlyphs">революция</text>
<text x="85.5" y="213.8" font-size="11.2">1979</text>
<text x="155.3" y="89" font-size="11.1" textLength="175.8" lengthAdjust="spacingAndGlyphs">Ирано-иракская война 1980–1987</text>
<text x="390.7" y="163" font-size="11.1" textLength="110.6" lengthAdjust="spacingAndGlyphs">Иракская война 2003</text>
<text x="152.4" y="265.4" font-size="11.6" font-weight="bold" stroke="#000" stroke-width="0.25" textLength="82" lengthAdjust="spacingAndGlyphs">«2-й нефтяной</text>
<text x="152.4" y="278.9" font-size="11.6" font-weight="bold" stroke="#000" stroke-width="0.25" textLength="45.2" lengthAdjust="spacingAndGlyphs">кризис»</text>
<text x="85.4" y="333" font-size="11.6" font-weight="bold" stroke="#000" stroke-width="0.25" textLength="82" lengthAdjust="spacingAndGlyphs">«1-й нефтяной</text>
<text x="85.4" y="347" font-size="11.6" font-weight="bold" stroke="#000" stroke-width="0.25" textLength="44.6" lengthAdjust="spacingAndGlyphs">кризис»</text>
<text x="506.1" y="343" font-size="11.6" font-weight="bold" stroke="#000" stroke-width="0.25" textLength="94.8" lengthAdjust="spacingAndGlyphs">Период высоких</text>
<text x="506.1" y="356.7" font-size="11.6" font-weight="bold" stroke="#000" stroke-width="0.25" textLength="75" lengthAdjust="spacingAndGlyphs">цен на нефть</text>
</svg>
</body></html>
